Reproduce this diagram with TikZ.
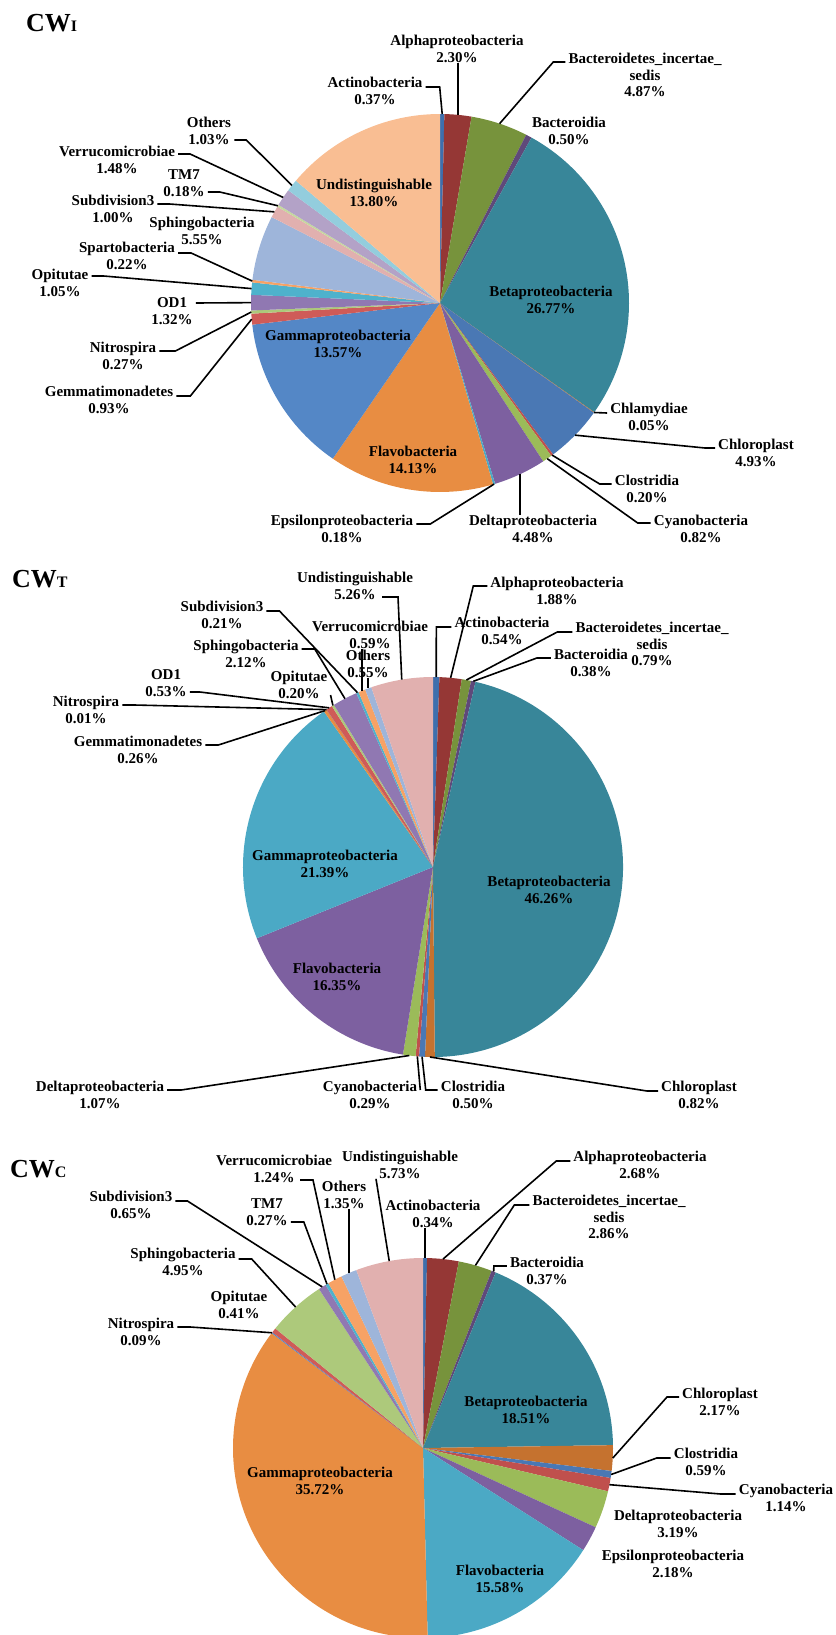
\documentclass[tikz,border=0pt]{standalone}
\usepackage{fontspec}
\setmainfont{Liberation Serif}

\definecolor{pal1}{HTML}{3E6FAD}
\definecolor{pal2}{HTML}{953735}
\definecolor{pal3}{HTML}{77933C}
\definecolor{pal4}{HTML}{5F497A}
\definecolor{pal5}{HTML}{388699}
\definecolor{pal6}{HTML}{C5722F}
\definecolor{pal7}{HTML}{4A78B4}
\definecolor{pal8}{HTML}{C0504D}
\definecolor{pal9}{HTML}{9BBB59}
\definecolor{pal10}{HTML}{7D60A0}
\definecolor{pal11}{HTML}{4BA9C5}
\definecolor{pal12}{HTML}{E88D42}
\definecolor{pal13}{HTML}{5487C6}
\definecolor{pal14}{HTML}{CF5B58}
\definecolor{pal15}{HTML}{ADC97B}
\definecolor{pal16}{HTML}{9078B2}
\definecolor{pal17}{HTML}{4EB2CC}
\definecolor{pal18}{HTML}{F7A265}
\definecolor{pal19}{HTML}{9EB5DA}
\definecolor{pal20}{HTML}{E1B0AF}
\definecolor{pal21}{HTML}{C5D89E}
\definecolor{pal22}{HTML}{B3A2C7}
\definecolor{pal23}{HTML}{93CDDD}
\definecolor{pal24}{HTML}{F9BE93}

\tikzset{
  lbl/.style={font=\fontsize{15}{16.7}\selectfont\bfseries, align=center, inner xsep=3pt, inner ysep=0pt},
  leader/.style={draw, line width=1.6pt},
  ttl/.style={font=\fontsize{26}{26}\selectfont\bfseries, inner sep=0pt, anchor=base west}
}

\begin{document}
\begin{tikzpicture}[x=1pt, y=1pt]
    \useasboundingbox (0,0) rectangle (835,-1635);
    \clip (0,0) rectangle (835,-1635);

    \coordinate (cA) at (440,-303);
    \coordinate (cB) at (433,-867);
    \coordinate (cC) at (423,-1448);

    % CW_I
    \gdef\cum{0}
    \foreach \val/\tag [count=\i] in {0.37/Act, 2.30/Alp, 4.87/Bin, 0.50/Bac, 26.77/Bet, 0.05/Cla, 4.93/Chp, 0.20/Clo, 0.82/Cya, 4.48/Del, 0.18/Eps, 14.13/Fla, 13.57/Gam, 0.93/Gem, 0.27/Nit, 1.32/OD, 1.05/Opi, 0.22/Spa, 5.55/Sph, 1.00/Sub, 0.18/TM, 1.48/Ver, 1.03/Oth, 13.80/Und}{
        \pgfmathsetmacro{\angA}{90-3.6*\cum}
        \pgfmathsetmacro{\angB}{90-3.6*(\cum+\val)}
        \pgfmathsetmacro{\angM}{(\angA+\angB)/2}
        \fill[pal\i] (cA) -- ++(\angA:189pt) arc[start angle=\angA, end angle=\angB, radius=189pt] -- cycle;
        \path (cA) ++(\angM:189pt) coordinate (edgeA-\tag);
        \pgfmathsetmacro{\newcum}{\cum+\val}
        \xdef\cum{\newcum}
    }

    % CW_T
    \gdef\cum{0}
    \foreach \val/\tag [count=\i] in {0.54/Act, 1.88/Alp, 0.79/Bin, 0.38/Bac, 46.26/Bet, 0.82/Chp, 0.50/Clo, 0.29/Cya, 1.07/Del, 16.35/Fla, 21.39/Gam, 0.26/Gem, 0.01/Nit, 0.53/OD, 0.20/Opi, 2.12/Sph, 0.21/Sub, 0.59/Ver, 0.55/Oth, 5.26/Und}{
        \pgfmathsetmacro{\angA}{90-3.6*\cum}
        \pgfmathsetmacro{\angB}{90-3.6*(\cum+\val)}
        \pgfmathsetmacro{\angM}{(\angA+\angB)/2}
        \fill[pal\i] (cB) -- ++(\angA:190pt) arc[start angle=\angA, end angle=\angB, radius=190pt] -- cycle;
        \path (cB) ++(\angM:190pt) coordinate (edgeB-\tag);
        \pgfmathsetmacro{\newcum}{\cum+\val}
        \xdef\cum{\newcum}
    }

    % CW_C
    \gdef\cum{0}
    \foreach \val/\tag [count=\i] in {0.34/Act, 2.68/Alp, 2.86/Bin, 0.37/Bac, 18.51/Bet, 2.17/Chp, 0.59/Clo, 1.14/Cya, 3.19/Del, 2.18/Eps, 15.58/Fla, 35.72/Gam, 0.09/Nit, 0.41/Opi, 4.95/Sph, 0.65/Sub, 0.27/TM, 1.24/Ver, 1.35/Oth, 5.73/Und}{
        \pgfmathsetmacro{\angA}{90-3.6*\cum}
        \pgfmathsetmacro{\angB}{90-3.6*(\cum+\val)}
        \pgfmathsetmacro{\angM}{(\angA+\angB)/2}
        \fill[pal\i] (cC) -- ++(\angA:190pt) arc[start angle=\angA, end angle=\angB, radius=190pt] -- cycle;
        \path (cC) ++(\angM:190pt) coordinate (edgeC-\tag);
        \pgfmathsetmacro{\newcum}{\cum+\val}
        \xdef\cum{\newcum}
    }

    % titles
    \node[ttl] (titleA) at (26,-32) {CW{\fontsize{16}{16}\selectfont I}};
    \node[ttl] (titleB) at (12,-587) {CW{\fontsize{16}{16}\selectfont T}};
    \node[ttl] (titleC) at (10,-1177) {CW{\fontsize{16}{16}\selectfont C}};

    % labels CW_I
    \node[lbl] (labA-Act) at (375,-91) {Actinobacteria\\0.37\%};
    \node[lbl] (labA-Alp) at (457,-49) {Alphaproteobacteria\\2.30\%};
    \node[lbl] (labA-Bin) at (645,-75) {Bacteroidetes\_incertae\_\\sedis\\4.87\%};
    \node[lbl] (labA-Bac) at (569,-131) {Bacteroidia\\0.50\%};
    \node[lbl] (labA-Bet) at (551,-300) {Betaproteobacteria\\26.77\%};
    \node[lbl] (labA-Cla) at (649,-417) {Chlamydiae\\0.05\%};
    \node[lbl] (labA-Chp) at (756,-453) {Chloroplast\\4.93\%};
    \node[lbl] (labA-Clo) at (647,-489) {Clostridia\\0.20\%};
    \node[lbl] (labA-Cya) at (701,-529) {Cyanobacteria\\0.82\%};
    \node[lbl] (labA-Del) at (533,-529) {Deltaproteobacteria\\4.48\%};
    \node[lbl] (labA-Eps) at (342,-529) {Epsilonproteobacteria\\0.18\%};
    \node[lbl] (labA-Fla) at (413,-460) {Flavobacteria\\14.13\%};
    \node[lbl] (labA-Gam) at (338,-344) {Gammaproteobacteria\\13.57\%};
    \node[lbl] (labA-Gem) at (109,-400) {Gemmatimonadetes\\0.93\%};
    \node[lbl] (labA-Nit) at (123,-356) {Nitrospira\\0.27\%};
    \node[lbl] (labA-OD) at (172,-311) {OD1\\1.32\%};
    \node[lbl] (labA-Opi) at (60,-283) {Opitutae\\1.05\%};
    \node[lbl] (labA-Spa) at (127,-256) {Spartobacteria\\0.22\%};
    \node[lbl] (labA-Sph) at (202,-231) {Sphingobacteria\\5.55\%};
    \node[lbl] (labA-Sub) at (113,-209) {Subdivision3\\1.00\%};
    \node[lbl] (labA-TM) at (184,-183) {TM7\\0.18\%};
    \node[lbl] (labA-Ver) at (117,-160) {Verrucomicrobiae\\1.48\%};
    \node[lbl] (labA-Oth) at (209,-131) {Others\\1.03\%};
    \node[lbl] (labA-Und) at (374,-193) {Undistinguishable\\13.80\%};

    \draw[leader] ([yshift=4pt]labA-Act.east) -- ++(14,0) -- (edgeA-Act);
    \draw[leader] (edgeA-Alp |- labA-Alp.south) -- (edgeA-Alp);
    \draw[leader] ([yshift=13pt]labA-Bin.west) -- ++(-12,0) -- (edgeA-Bin);
    \draw[leader] ([yshift=4pt]labA-Cla.west) -- (edgeA-Cla);
    \draw[leader] ([yshift=5pt]labA-Chp.west) -- ++(-10,0) -- (edgeA-Chp);
    \draw[leader] ([yshift=5pt]labA-Clo.west) -- ++(-12,0) -- (edgeA-Clo);
    \draw[leader] ([yshift=6pt]labA-Cya.west) -- ++(-13,0) -- (edgeA-Cya);
    \draw[leader] (edgeA-Del |- labA-Del.north) -- (edgeA-Del);
    \draw[leader] ([yshift=5pt]labA-Eps.east) -- ++(14,0) -- (edgeA-Eps);
    \draw[leader] ([yshift=4pt]labA-Gem.east) -- ++(14,0) -- (edgeA-Gem);
    \draw[leader] ([yshift=5pt]labA-Nit.east) -- ++(16,0) -- (edgeA-Nit);
    \draw[leader] ([yshift=8pt]labA-OD.east) -- (edgeA-OD);
    \draw[leader] ([yshift=7pt]labA-Opi.east) -- ++(12,0) -- (edgeA-Opi);
    \draw[leader] ([yshift=3pt]labA-Spa.east) -- ++(13,0) -- (edgeA-Spa);
    \draw[leader] ([yshift=5pt]labA-Sub.east) -- ++(12,0) -- (edgeA-Sub);
    \draw[leader] ([yshift=-9pt]labA-TM.east) -- ++(12,0) -- (edgeA-TM);
    \draw[leader] ([yshift=6pt]labA-Ver.east) -- ++(12,0) -- (edgeA-Ver);
    \draw[leader] ([yshift=-9pt]labA-Oth.east) -- ++(12,0) -- (edgeA-Oth);

    % labels CW_T
    \node[lbl] (labB-Act) at (502,-631) {Actinobacteria\\0.54\%};
    \node[lbl] (labB-Alp) at (557,-591) {Alphaproteobacteria\\1.88\%};
    \node[lbl] (labB-Bin) at (652,-644) {Bacteroidetes\_incertae\_\\sedis\\0.79\%};
    \node[lbl] (labB-Bac) at (591,-663) {Bacteroidia\\0.38\%};
    \node[lbl] (labB-Bet) at (549,-890) {Betaproteobacteria\\46.26\%};
    \node[lbl] (labB-Chp) at (699,-1095) {Chloroplast\\0.82\%};
    \node[lbl] (labB-Clo) at (473,-1095) {Clostridia\\0.50\%};
    \node[lbl] (labB-Cya) at (370,-1095) {Cyanobacteria\\0.29\%};
    \node[lbl] (labB-Del) at (100,-1095) {Deltaproteobacteria\\1.07\%};
    \node[lbl] (labB-Fla) at (337,-977) {Flavobacteria\\16.35\%};
    \node[lbl] (labB-Gam) at (325,-864) {Gammaproteobacteria\\21.39\%};
    \node[lbl] (labB-Gem) at (138,-750) {Gemmatimonadetes\\0.26\%};
    \node[lbl] (labB-Nit) at (86,-710) {Nitrospira\\0.01\%};
    \node[lbl] (labB-OD) at (166,-683) {OD1\\0.53\%};
    \node[lbl] (labB-Opi) at (299,-685) {Opitutae\\0.20\%};
    \node[lbl] (labB-Sph) at (246,-654) {Sphingobacteria\\2.12\%};
    \node[lbl] (labB-Sub) at (222,-615) {Subdivision3\\0.21\%};
    \node[lbl] (labB-Ver) at (370,-635) {Verrucomicrobiae\\0.59\%};
    \node[lbl] (labB-Oth) at (368,-664) {Others\\0.55\%};
    \node[lbl] (labB-Und) at (355,-586) {Undistinguishable\\5.26\%};

    \draw[leader] ([yshift=4pt]labB-Act.west) -- ++(-15,0) -- (edgeB-Act);
    \draw[leader] ([yshift=5pt]labB-Alp.west) -- ++(-14,0) -- (edgeB-Alp);
    \draw[leader] ([yshift=12pt]labB-Bin.west) -- ++(-15,0) -- (edgeB-Bin);
    \draw[leader] ([yshift=5pt]labB-Bac.west) -- ++(-14,0) -- (edgeB-Bac);
    \draw[leader] ([yshift=4pt]labB-Chp.west) -- ++(-11,0) -- (edgeB-Chp);
    \draw[leader] ([yshift=5pt]labB-Clo.west) -- ++(-12,0) -- (edgeB-Clo);
    \draw[leader] ([yshift=5pt]labB-Cya.east) -- (edgeB-Cya);
    \draw[leader] ([yshift=5pt]labB-Del.east) -- ++(14,0) -- (edgeB-Del);
    \draw[leader] ([yshift=5pt]labB-Gem.east) -- ++(13,0) -- (edgeB-Gem);
    \draw[leader] ([yshift=5pt]labB-Nit.east) -- ++(12,0) -- (edgeB-Nit);
    \draw[leader] ([yshift=-9pt]labB-OD.east) -- ++(10,0) -- (edgeB-OD);
    \draw[leader] ([yshift=-10pt]labB-Opi.east) -- (edgeB-Opi);
    \draw[leader] ([yshift=5pt]labB-Sph.east) -- ++(13,0) -- (edgeB-Sph);
    \draw[leader] ([yshift=4pt]labB-Sub.east) -- ++(13,0) -- (edgeB-Sub);
    \draw[leader] (edgeB-Ver |- labB-Ver.south) -- (edgeB-Ver);
    \draw[leader] (edgeB-Oth |- labB-Oth.south) -- (edgeB-Oth);
    \draw[leader] ([xshift=27pt,yshift=-11pt]labB-Und.center) -- ++(16,0) -- (edgeB-Und);

    % labels CW_C
    \node[lbl] (labC-Act) at (433,-1214) {Actinobacteria\\0.34\%};
    \node[lbl] (labC-Alp) at (640,-1165) {Alphaproteobacteria\\2.68\%};
    \node[lbl] (labC-Bin) at (609,-1217) {Bacteroidetes\_incertae\_\\sedis\\2.86\%};
    \node[lbl] (labC-Bac) at (547,-1271) {Bacteroidia\\0.37\%};
    \node[lbl] (labC-Bet) at (526,-1410) {Betaproteobacteria\\18.51\%};
    \node[lbl] (labC-Chp) at (720,-1402) {Chloroplast\\2.17\%};
    \node[lbl] (labC-Clo) at (706,-1462) {Clostridia\\0.59\%};
    \node[lbl] (labC-Cya) at (786,-1498) {Cyanobacteria\\1.14\%};
    \node[lbl] (labC-Del) at (678,-1524) {Deltaproteobacteria\\3.19\%};
    \node[lbl] (labC-Eps) at (673,-1564) {Epsilonproteobacteria\\2.18\%};
    \node[lbl] (labC-Fla) at (500,-1579) {Flavobacteria\\15.58\%};
    \node[lbl] (labC-Gam) at (320,-1481) {Gammaproteobacteria\\35.72\%};
    \node[lbl] (labC-Nit) at (141,-1332) {Nitrospira\\0.09\%};
    \node[lbl] (labC-Opi) at (239,-1305) {Opitutae\\0.41\%};
    \node[lbl] (labC-Sph) at (183,-1262) {Sphingobacteria\\4.95\%};
    \node[lbl] (labC-Sub) at (131,-1205) {Subdivision3\\0.65\%};
    \node[lbl] (labC-TM) at (267,-1212) {TM7\\0.27\%};
    \node[lbl] (labC-Ver) at (274,-1169) {Verrucomicrobiae\\1.24\%};
    \node[lbl] (labC-Oth) at (344,-1195) {Others\\1.35\%};
    \node[lbl] (labC-Und) at (400,-1165) {Undistinguishable\\5.73\%};

    \draw[leader] (edgeC-Act |- labC-Act.south) -- (edgeC-Act);
    \draw[leader] ([yshift=4pt]labC-Alp.west) -- ++(-14,0) -- (edgeC-Alp);
    \draw[leader] ([yshift=12pt]labC-Bin.west) -- ++(-15,0) -- (edgeC-Bin);
    \draw[leader] ([yshift=5pt]labC-Bac.west) -- ++(-13,0) -- (edgeC-Bac);
    \draw[leader] ([yshift=5pt]labC-Chp.west) -- ++(-12,0) -- (edgeC-Chp);
    \draw[leader] ([yshift=4pt]labC-Clo.west) -- ++(-14,0) -- (edgeC-Clo);
    \draw[leader] ([yshift=4pt]labC-Cya.west) -- ++(-15,0) -- (edgeC-Cya);
    \draw[leader] ([yshift=5pt]labC-Nit.east) -- ++(13,0) -- (edgeC-Nit);
    \draw[leader] ([yshift=3pt]labC-Sph.east) -- ++(13,0) -- (edgeC-Sph);
    \draw[leader] ([yshift=4pt]labC-Sub.east) -- ++(12,0) -- (edgeC-Sub);
    \draw[leader] ([yshift=-10pt]labC-TM.east) -- ++(13,0) -- (edgeC-TM);
    \draw[leader] ([xshift=26pt,yshift=-11pt]labC-Ver.center) -- ++(13,0) -- (edgeC-Ver);
    \draw[leader] (edgeC-Oth |- labC-Oth.south) -- (edgeC-Oth);
    \draw[leader] ([xshift=-24pt]labC-Und.south) -- (edgeC-Und);
\end{tikzpicture}
\end{document}
